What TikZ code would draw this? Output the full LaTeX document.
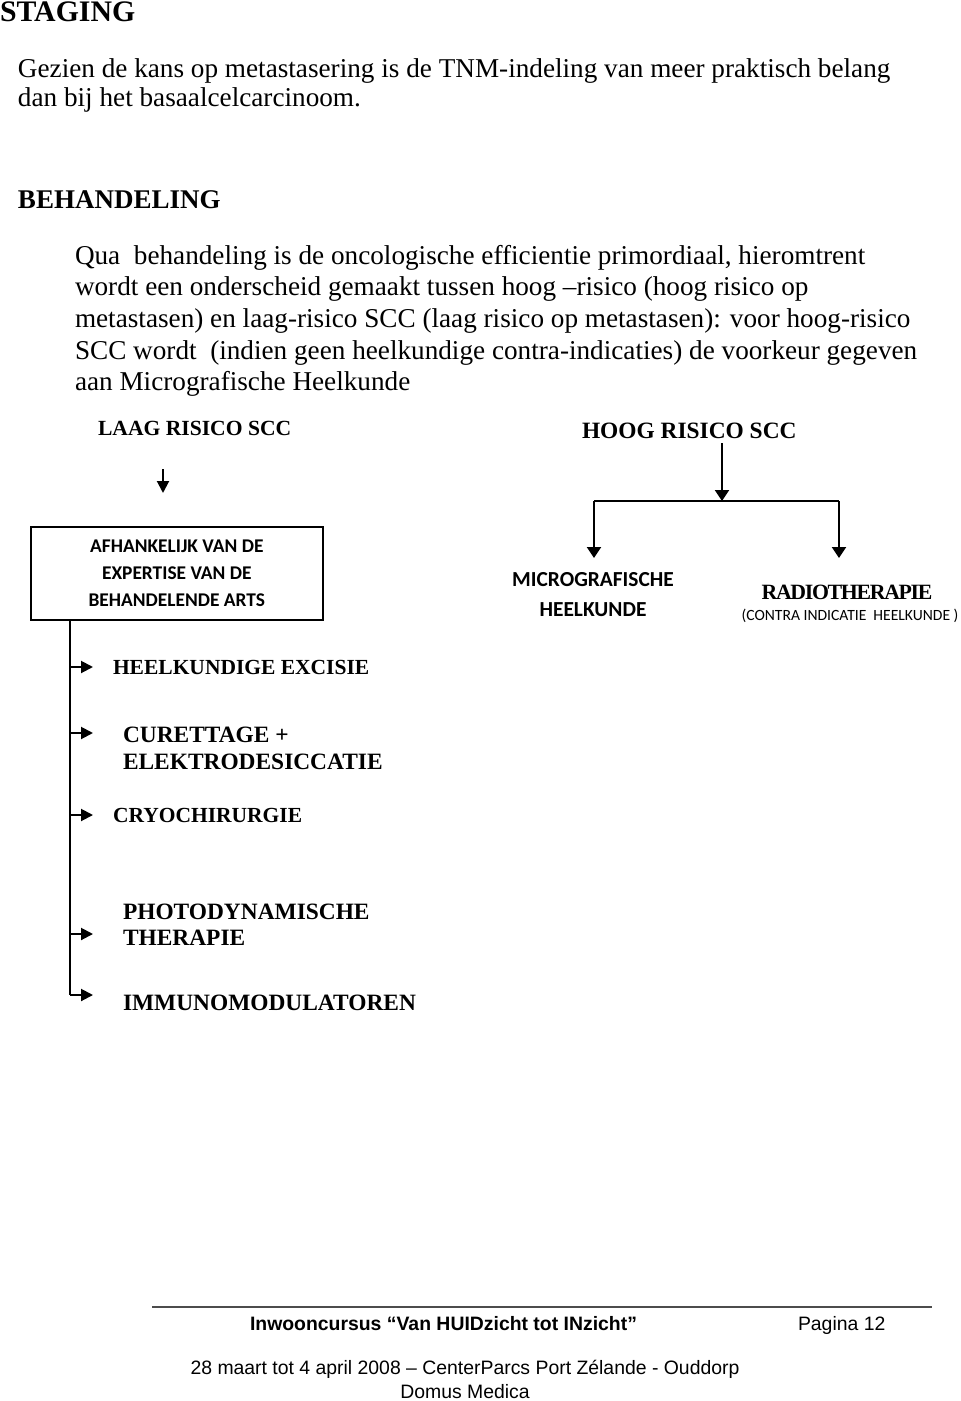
\documentclass[tikz,border=0pt]{standalone}
\usepackage{fontspec}
\setmainfont{Liberation Serif}
\newfontfamily\calibri{Carlito}
\newfontfamily\arial{Liberation Sans}
\newfontfamily\tightserif{Liberation Serif}[LetterSpace=-6]
\usetikzlibrary{arrows.meta}
\newcommand{\fs}[1]{\fontsize{#1}{#1}\selectfont}
\tikzset{
  x=0.5pt, y=-0.5pt,
  txt/.style={inner sep=0pt, outer sep=0pt, anchor=base west},
  ctxt/.style={inner sep=0pt, outer sep=0pt, anchor=base},
  body/.style={txt, font=\fs{13.6}},
  itemA/.style={txt, font=\fs{10.75}\bfseries},
  itemB/.style={txt, font=\fs{11.7}\bfseries},
  conn/.style={line width=1pt, -{Triangle[width=6pt,length=6pt]}},
  bigconn/.style={line width=1pt, -{Triangle[width=7pt,length=5.5pt]}},
  plain/.style={line width=1pt},
}
\begin{document}
\begin{tikzpicture}
\useasboundingbox (0,0) rectangle (960,1401);
% header
\node[txt, font=\fs{14.9}\bfseries] (stag) at (0,22) {STAGING};
\node[txt, font=\fs{13.6}] (g1) at (18,78) {Gezien de kans op metastasering is de TNM-indeling van meer praktisch belang};
\node[txt, font=\fs{13.6}] (g2) at (18,107) {dan bij het basaalcelcarcinoom.};
\node[txt, font=\fs{13.5}\bfseries] (beh) at (18,209) {BEHANDELING};
\node[body] (p1) at (75,265) {Qua\ \ behandeling is de oncologische efficientie primordiaal, hieromtrent};
\node[body] (p2) at (75,296) {wordt een onderscheid gemaakt tussen hoog –risico (hoog risico op};
\node[body] (p3) at (75,328) {metastasen) en laag-risico SCC (laag risico op metastasen): voor hoog-risico};
\node[body] (p4) at (75,359) {SCC wordt\ \ (indien geen heelkundige contra-indicaties) de voorkeur gegeven};
\node[body] (p5) at (75,390) {aan Micrografische Heelkunde};
% diagram titles
\node[txt, font=\fs{10.8}\bfseries] (laag) at (98,435) {LAAG RISICO SCC};
\node[txt, font=\fs{11.7}\bfseries] (hoog) at (582,438) {HOOG RISICO SCC};
% low-risk box
\node[draw, line width=0.8pt, minimum width=146pt, minimum height=46.5pt, inner sep=0pt, anchor=north west,
      font={\fontsize{9.7}{13.5}\selectfont\calibri\bfseries}, align=center] (box) at (30,526)
  {AFHANKELIJK VAN DE\\EXPERTISE VAN DE\\BEHANDELENDE ARTS};
\coordinate (la1) at (163,469);
\coordinate (la2) at (163,493);
\draw[conn] (la1) -- (la2);
% high-risk branches
\coordinate (h1) at (722,443);
\coordinate (hj) at (722,501);
\coordinate (hl) at (594,501);
\coordinate (hr) at (839,501);
\coordinate (hl2) at (594,558);
\coordinate (hr2) at (839,558);
\draw[bigconn] (h1) -- (hj);
\draw[plain] (hl) -- (hr);
\draw[bigconn] (hl) -- (hl2);
\draw[bigconn] (hr) -- (hr2);
\node[ctxt, font=\fs{10.7}\calibri\bfseries] (micro1) at (593,586) {MICROGRAFISCHE};
\node[ctxt, font=\fs{10.7}\calibri\bfseries] (micro2) at (593,616) {HEELKUNDE};
\node[ctxt, font=\fs{10.9}\bfseries\tightserif] (radio) at (847,599) {RADIOTHERAPIE};
\node[ctxt, font=\fs{7.8}\calibri] (contra) at (850,620) {(CONTRA INDICATIE\ \ HEELKUNDE )};
% low-risk list
\coordinate (vb) at (70,995);
\coordinate (a1) at (70,667);
\coordinate (a2) at (70,733);
\coordinate (a3) at (70,815);
\coordinate (a4) at (70,934);
\coordinate (e1) at (93,667);
\coordinate (e2) at (93,733);
\coordinate (e3) at (93,815);
\coordinate (e4) at (93,934);
\coordinate (e5) at (93,995);
\draw[plain] (box.south west -| vb) -- (vb);
\draw[conn] (a1) -- (e1);
\draw[conn] (a2) -- (e2);
\draw[conn] (a3) -- (e3);
\draw[conn] (a4) -- (e4);
\draw[conn] (vb) -- (e5);
\node[itemA] (t1) at (113,674) {HEELKUNDIGE EXCISIE};
\node[itemB] (t2a) at (123,742) {CURETTAGE +};
\node[itemB] (t2b) at (123,769) {ELEKTRODESICCATIE};
\node[itemA] (t3) at (113,822) {CRYOCHIRURGIE};
\node[itemB] (t4a) at (123,919) {PHOTODYNAMISCHE};
\node[itemB] (t4b) at (123,945) {THERAPIE};
\node[itemB] (t5) at (123,1010) {IMMUNOMODULATOREN};
% footer
\coordinate (f1) at (152,1307);
\coordinate (f2) at (932,1307);
\draw[line width=0.6pt, black!70] (f1) -- (f2);
\node[txt, font=\fs{9.7}\bfseries\arial] (fa) at (250,1330) {Inwooncursus “Van HUIDzicht tot INzicht”};
\node[txt, font=\fs{9.7}\arial] (fb) at (798,1330) {Pagina 12};
\node[ctxt, font=\fs{9.7}\arial] (fc) at (465,1374) {28 maart tot 4 april 2008 – CenterParcs Port Zélande - Ouddorp};
\node[ctxt, font=\fs{9.7}\arial] (fd) at (465,1398) {Domus Medica};
\end{tikzpicture}
\end{document}
